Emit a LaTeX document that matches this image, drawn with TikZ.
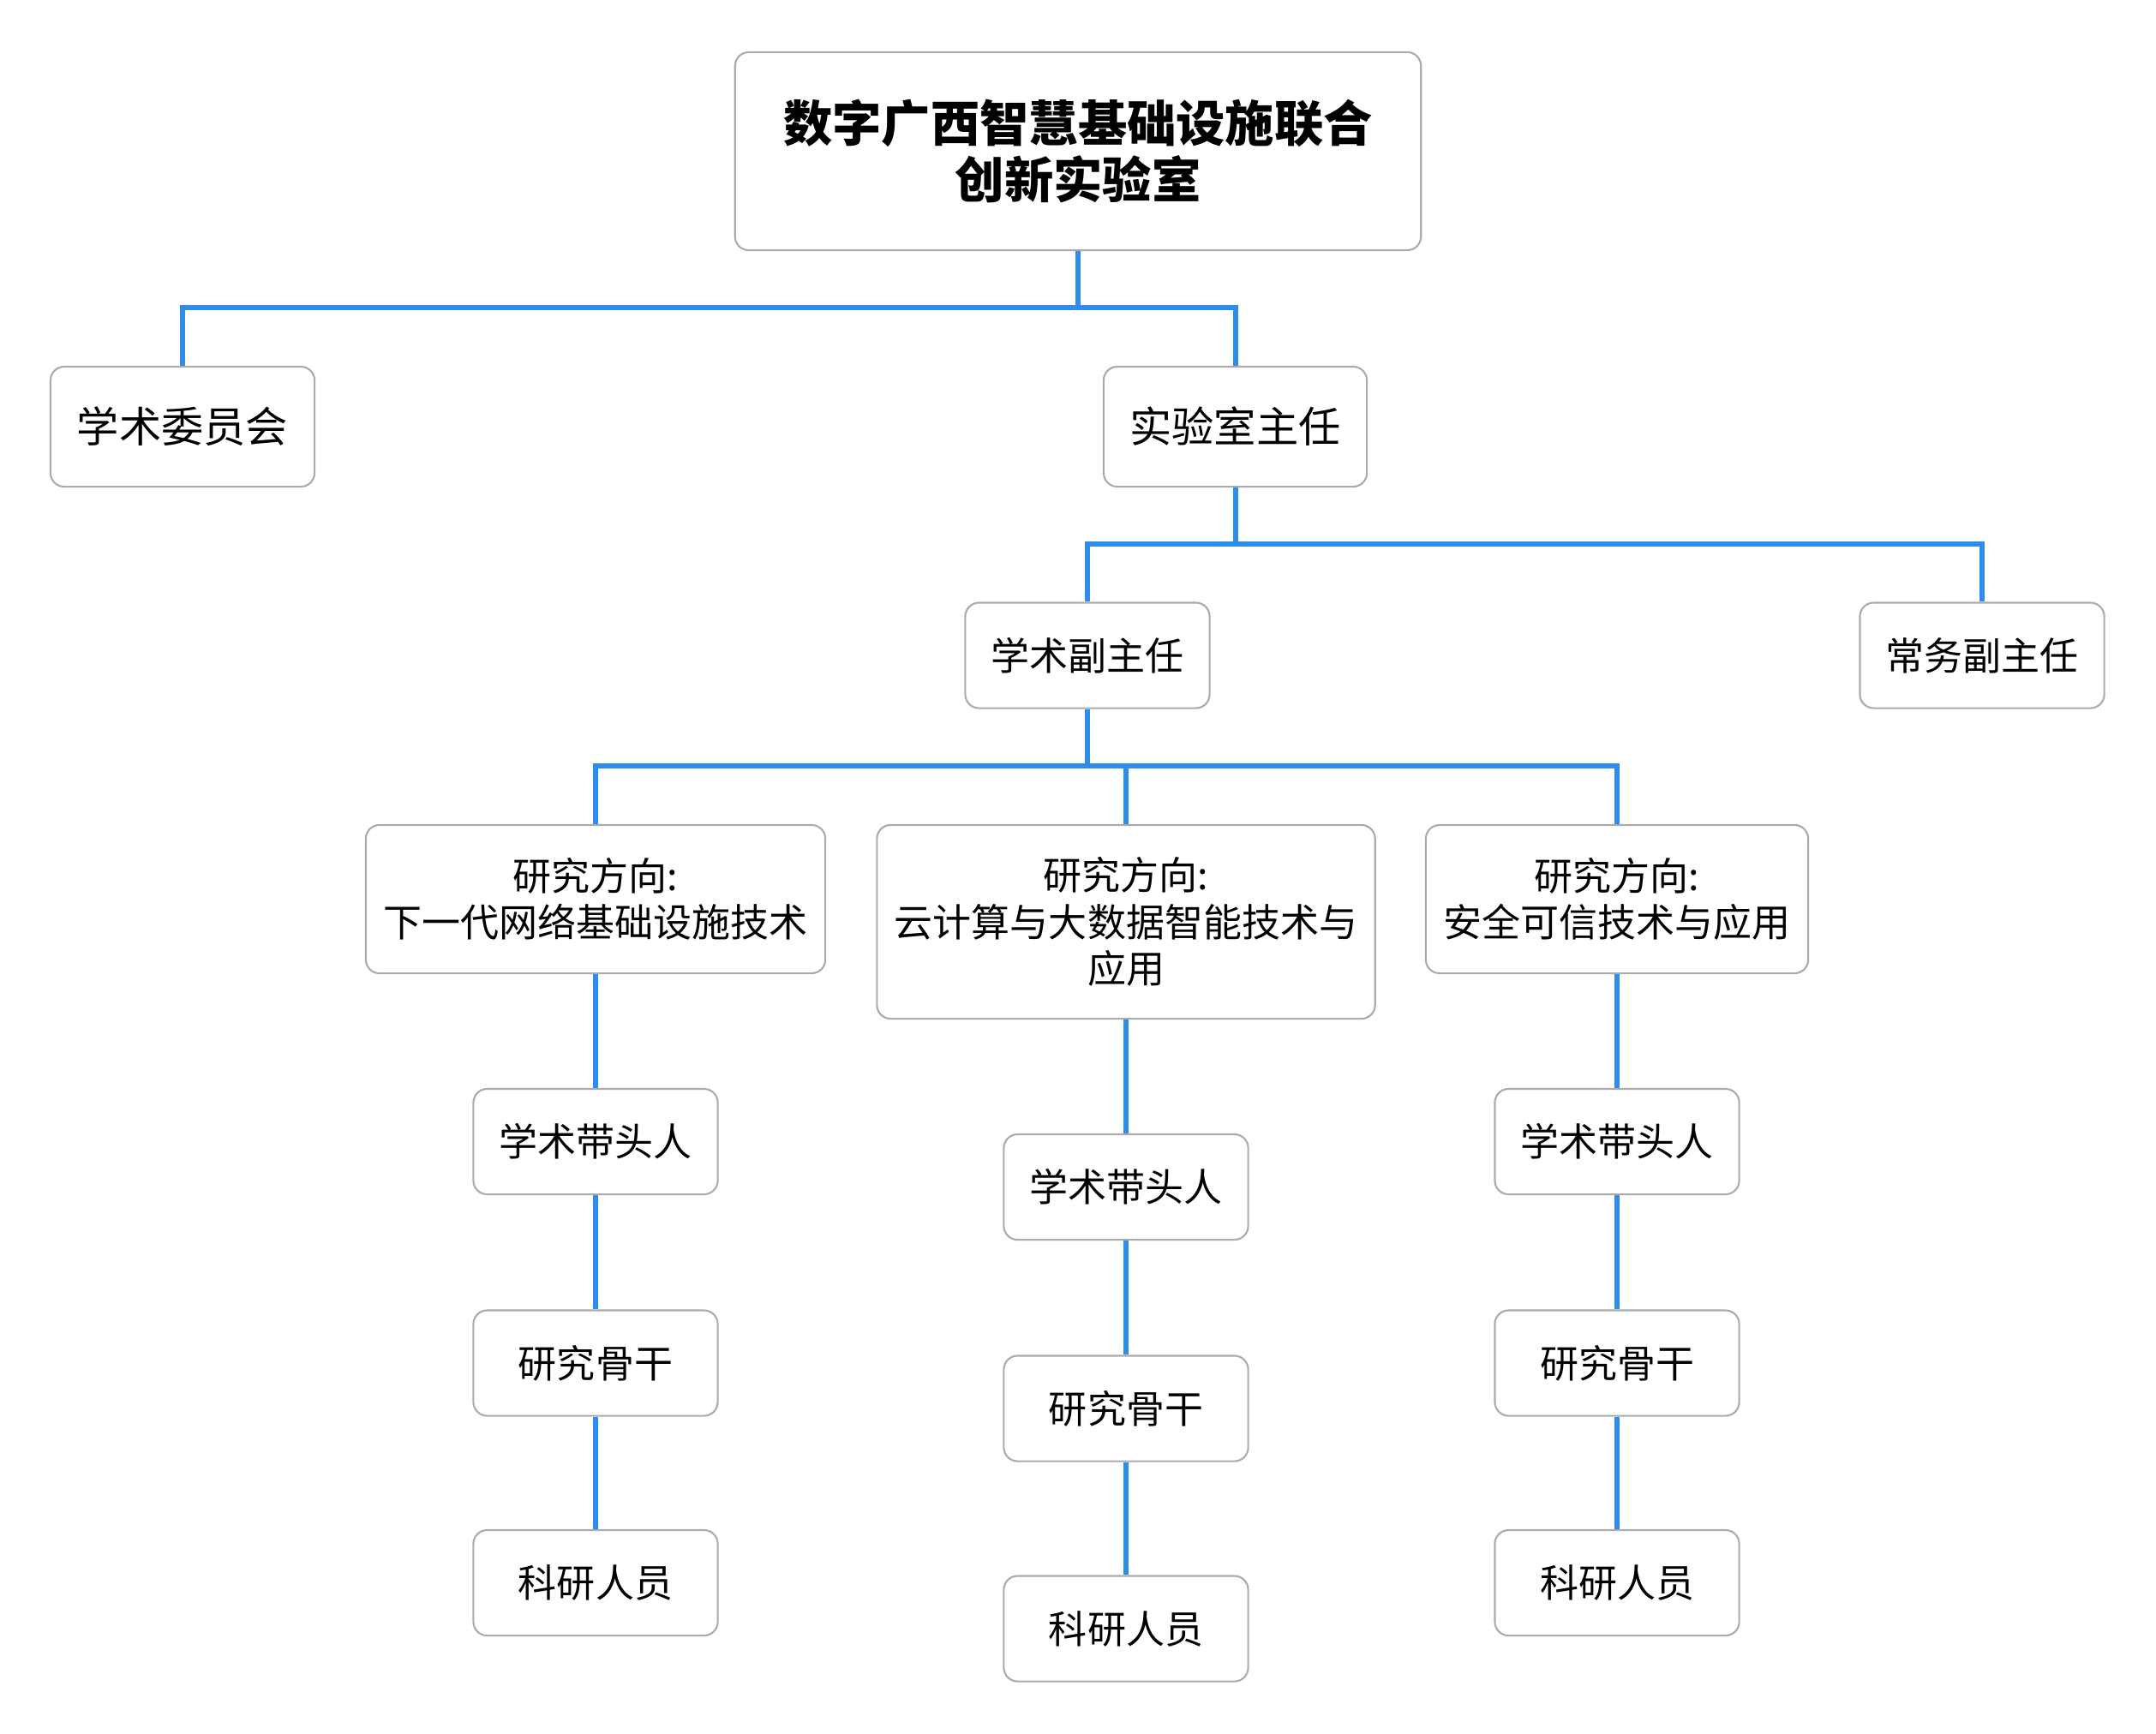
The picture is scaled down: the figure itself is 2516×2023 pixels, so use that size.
\documentclass[tikz,border=0pt]{standalone}
\usepackage{fontspec}
\setmainfont{Noto Sans CJK SC}
\definecolor{linkblue}{HTML}{2F8DEA}
\definecolor{boxgray}{HTML}{ABABAB}
\begin{document}
\begin{tikzpicture}[x=0.01cm,y=-0.01cm,
  box/.style={draw=boxgray,line width=0.6pt,rounded corners=0.16cm,fill=white,
    align=center,inner sep=0pt,text=black},
  topbox/.style={box,minimum width=8cm,minimum height=2.31cm,
    font=\fontsize{16.3}{19}\selectfont\bfseries},
  midbox/.style={box,minimum width=3.08cm,minimum height=1.4cm,
    font=\fontsize{14}{17}\selectfont},
  smallbox/.style={box,minimum width=2.85cm,minimum height=1.23cm,
    font=\fontsize{12.8}{15.5}\selectfont},
  dirbox/.style={box,minimum height=1.73cm,
    font=\fontsize{12.8}{15.5}\selectfont},
  link/.style={draw=linkblue,line width=1.7pt}]
\useasboundingbox[fill=white] (0,0) rectangle (2516,2023);

% nodes
\node[topbox] (top) at (1258,176.5) {数字广西智慧基础设施联合\\创新实验室};
\node[midbox] (acad) at (213,498) {学术委员会};
\node[midbox,minimum width=3.07cm] (dir) at (1441.5,498) {实验室主任};
\node[smallbox] (vdA) at (1269,765) {学术副主任};
\node[smallbox] (vdB) at (2313,765) {常务副主任};
\node[dirbox,minimum width=5.36cm] (rA) at (695,1049.5) {研究方向:\\下一代网络基础设施技术};
\node[dirbox,minimum width=5.81cm,minimum height=2.26cm] (rB) at (1314,1076) {研究方向:\\云计算与大数据智能技术与\\应用};
\node[dirbox,minimum width=4.46cm] (rC) at (1887,1049.5) {研究方向:\\安全可信技术与应用};

\node[smallbox] (leadA) at (695,1332.5) {学术带头人};
\node[smallbox] (boneA) at (695,1591) {研究骨干};
\node[smallbox] (staffA) at (695,1847.5) {科研人员};
\node[smallbox] (leadB) at (1314,1385.5) {学术带头人};
\node[smallbox] (boneB) at (1314,1644) {研究骨干};
\node[smallbox] (staffB) at (1314,1901) {科研人员};
\node[smallbox] (leadC) at (1887,1332.5) {学术带头人};
\node[smallbox] (boneC) at (1887,1591) {研究骨干};
\node[smallbox] (staffC) at (1887,1847.5) {科研人员};

% bus coordinates
\coordinate (bus1) at (top.south |- 0,359);
\coordinate (bus2) at (dir.south |- 0,635);
\coordinate (bus3) at (vdA.south |- 0,894);

% connectors
\draw[link] (top.south) -- (bus1);
\draw[link] (acad.north) |- (bus1) -| (dir.north);
\draw[link] (dir.south) -- (bus2);
\draw[link] (vdA.north) |- (bus2) -| (vdB.north);
\draw[link] (vdA.south) -- (bus3);
\draw[link] (rA.north) |- (bus3) -| (rC.north);
\draw[link] (bus3 -| rB.north) -- (rB.north);
\draw[link] (rA.south) -- (leadA.north);
\draw[link] (leadA.south) -- (boneA.north);
\draw[link] (boneA.south) -- (staffA.north);
\draw[link] (rB.south) -- (leadB.north);
\draw[link] (leadB.south) -- (boneB.north);
\draw[link] (boneB.south) -- (staffB.north);
\draw[link] (rC.south) -- (leadC.north);
\draw[link] (leadC.south) -- (boneC.north);
\draw[link] (boneC.south) -- (staffC.north);
\end{tikzpicture}
\end{document}
